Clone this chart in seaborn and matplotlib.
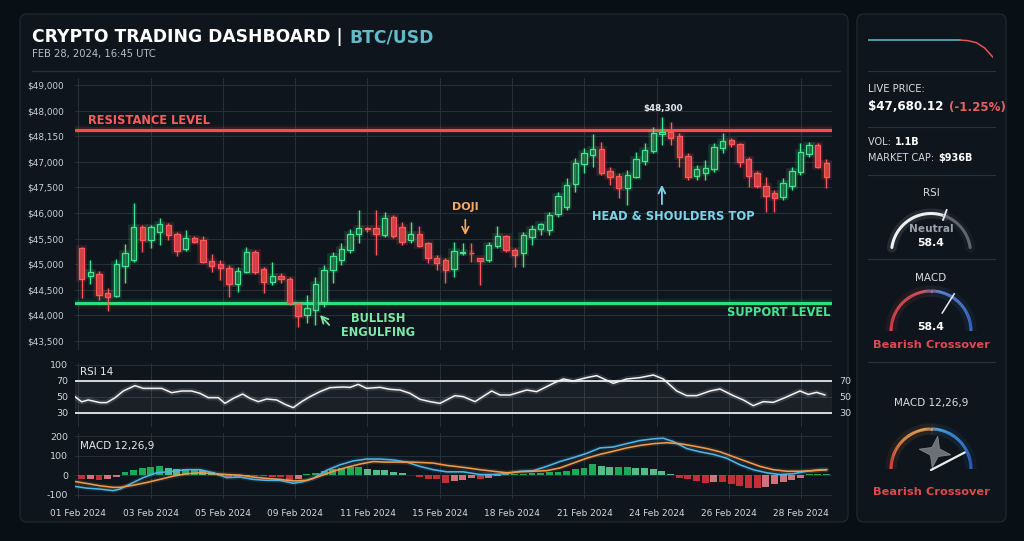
import numpy as np
import matplotlib
matplotlib.use("Agg")
import matplotlib.pyplot as plt
import seaborn as sns
from matplotlib.patches import FancyBboxPatch, Polygon
from matplotlib.collections import LineCollection
from matplotlib.colors import LinearSegmentedColormap

## Data
opens = [45310, 44769, 44802, 44431, 44379, 44971, 45082, 45733, 45472, 45622,
         45765, 45589, 45290, 45511, 45466, 45062, 44997, 44932, 44613, 44854,
         45238, 44906, 44658, 44769, 44704, 44222, 44007, 44105, 44268, 44886,
         45082, 45277, 45583, 45700, 45700, 45570, 45928, 45733, 45472, 45589,
         45407, 45127, 45082, 44899, 45212, 45225, 45114, 45082, 45362, 45550,
         45277, 45212, 45537, 45680, 45668, 45980, 46110, 46566, 46950, 47132,
         47243, 46827, 46722, 46482, 46709, 47022, 47217, 47542, 47588, 47503,
         47113, 46722, 46787, 46852, 47263, 47425, 47347, 47048, 46774, 46534,
         46384, 46318, 46527, 46807, 47152, 47328, 46983]
highs = [45340, 45082, 44867, 44528, 45095, 45394, 46201, 45765, 45765, 45895,
         45798, 45635, 45667, 45550, 45550, 45199, 45082, 44984, 44952, 45342,
         45277, 44939, 45049, 44834, 44756, 44268, 44398, 44756, 44984, 45244,
         45407, 45680, 46058, 45733, 46058, 46025, 45960, 45830, 45830, 45752,
         45440, 45180, 45114, 45440, 45407, 45407, 45127, 45440, 45746, 45570,
         45310, 45635, 45765, 45798, 46025, 46416, 46677, 47067, 47263, 47543,
         47393, 46905, 46774, 46840, 47198, 47360, 47686, 47868, 47783, 47555,
         47165, 46937, 47035, 47360, 47555, 47458, 47373, 47100, 46826, 46709,
         46449, 46677, 46891, 47360, 47393, 47360, 47048]
lows = [44333, 44613, 44300, 44086, 44353, 44626, 45049, 45244, 45310, 45375,
        45472, 45166, 45264, 45407, 45017, 44854, 44691, 44366, 44463, 44821,
        44808, 44431, 44593, 44626, 44203, 43779, 43845, 43812, 44170, 44626,
        44984, 45212, 45407, 45635, 45180, 45537, 45505, 45375, 45407, 45342,
        45017, 44886, 44626, 44743, 45180, 45049, 44593, 45049, 45310, 45244,
        44951, 44951, 45375, 45570, 45570, 45928, 46058, 46416, 46774, 46905,
        46742, 46547, 46286, 46156, 46677, 46937, 47165, 47328, 47328, 46904,
        46644, 46644, 46644, 46807, 47165, 47295, 46891, 46514, 46481, 46025,
        46025, 46254, 46449, 46742, 47100, 46872, 46481]
closes = [44704, 44841, 44398, 44366, 44997, 45218, 45720, 45472, 45733, 45778,
          45563, 45264, 45505, 45440, 45049, 44965, 44919, 44613, 44867, 45245,
          44841, 44658, 44763, 44704, 44235, 43994, 44151, 44613, 44886, 45160,
          45290, 45589, 45713, 45680, 45583, 45908, 45550, 45440, 45589, 45362,
          45114, 45030, 44886, 45264, 45244, 45212, 45062, 45375, 45550, 45277,
          45180, 45570, 45687, 45785, 45960, 46332, 46547, 46983, 47165, 47243,
          46774, 46709, 46482, 46742, 47048, 47230, 47555, 47588, 47458, 47100,
          46709, 46852, 46872, 47295, 47412, 47347, 47002, 46722, 46527, 46332,
          46286, 46592, 46826, 47197, 47328, 46904, 46696]

resistance = 47620
support = 44242

price_ticks = [43500, 44000, 44500, 45000, 45500, 46000, 46500, 47000, 47500, 48000, 48500]
price_labels = ["$43,500", "$44,000", "$44,500", "$45,000", "$45,500", "$46,000",
                "$47,500", "$47,000", "$48,150", "$48,000", "$49,000"]

date_labels = ["01 Feb 2024", "03 Feb 2024", "05 Feb 2024", "09 Feb 2024", "11 Feb 2024",
               "15 Feb 2024", "18 Feb 2024", "21 Feb 2024", "24 Feb 2024", "26 Feb 2024",
               "28 Feb 2024"]

# RSI 14 (position in candle units, value)
rsi_idx = [-0.77, 0, 0.76, 2.11, 2.89, 3.85, 4.80, 6.15, 7.11, 9.24,
           10.39, 11.55, 12.70, 13.66, 14.62, 15.77, 16.55, 17.51, 18.59, 19.43,
           20.39, 21.36, 22.52, 23.48, 24.43, 25.40, 26.36, 27.52, 28.67, 30.21,
           30.98, 31.94, 32.91, 34.45, 35.60, 36.76, 37.91, 39.06, 40.21,
           41.37, 43.10, 44.06, 45.42, 47.34, 48.30, 49.46, 51.39, 52.54, 54.46,
           55.61, 56.77, 58.31, 59.47, 61.39, 62.93, 64.47, 66.01, 67.16, 68.71,
           69.86, 71.02, 72.55, 73.71, 75.24, 76.40, 77.55, 78.71, 79.86, 81.02,
           82.94, 83.90, 84.87, 85.83]
rsi_val = [50.4, 44, 46.3, 43, 43, 49, 57.5, 64.2, 60.8, 60.8,
           55.4, 57.5, 57.5, 54.6, 49.2, 49.2, 42.1, 48.3, 53.7, 48.3,
           44.2, 47.5, 46.3, 40.8, 36.7, 44.2, 50.4, 56.7, 61.7, 62.5,
           62, 65.8, 60.8, 62.1, 59.6, 58.75, 54.6, 47.1, 44.2,
           42.1, 51.7, 50.4, 44.2, 57.5, 52.5, 52.5, 58.75, 56.7, 67.1,
           72.5, 70, 74.2, 76.7, 67.1, 72.5, 74.2, 77.5, 72.5, 57.5,
           51.7, 51.7, 57.5, 60, 51.7, 46.3, 39.2, 44.2, 43.3, 48.3,
           57.5, 53.3, 55.8, 52.5]

# MACD 12,26,9
macd_idx = [-0.77, 0.58, 2.11, 3.65, 4.42, 5.96, 7.11, 8.66, 10.58, 12.12,
            13.66, 15.20, 16.74, 18.27, 19.82, 21.36, 22.90, 24.43, 25.40, 26.74,
            28.29, 29.83, 31.36, 32.91, 34.45, 35.98, 37.53, 39.06, 40.60, 42.15,
            44.06, 45.99, 47.53, 49.08, 50.61, 52.15, 53.70, 55.23, 56.77, 58.31,
            59.85, 61.39, 62.93, 64.47, 66.01, 67.16, 68.31, 69.86, 71.39, 72.93,
            74.48, 76.02, 77.55, 79.10, 80.63, 82.17, 83.72, 85.26, 86.03]
macd_val = [-58, -67, -72, -80, -72, -38, -13, 12, 20, 28,
            28, 12, -13, -10, -22, -27, -27, -42, -35, -17,
            25, 53, 73, 83, 83, 78, 67, 45, 28, 17,
            17, 3, 3, 8, 20, 23, 45, 70, 90, 112,
            140, 145, 162, 178, 187, 190, 173, 137, 120, 107,
            87, 53, 28, 12, 3, 7, 20, 28, 28]
signal_idx = [-0.77, 0.58, 2.11, 3.65, 4.42, 5.96, 7.50, 9.04, 10.58, 12.12,
              13.66, 15.20, 16.74, 18.27, 19.82, 21.36, 22.90, 24.43, 25.98, 27.52,
              29.05, 30.60, 32.13, 33.67, 35.22, 36.76, 38.29,
              40.60, 42.15, 44.06, 45.99, 47.53, 49.08, 50.61, 52.15, 53.70, 55.23,
              56.77, 58.31, 59.85, 61.39, 62.93, 64.47, 66.01, 67.55, 69.09, 70.63,
              72.17, 73.71, 75.24, 76.79, 78.33, 79.86, 81.40, 82.94, 84.49, 86.03]
signal_val = [-33, -43, -55, -63, -63, -52, -38, -22, -5, 7,
              12, 8, 3, 0, -10, -17, -22, -30, -27, -5,
              20, 40, 57, 70, 67, 67, 67,
              62, 50, 40, 28, 20, 12, 17, 20, 23, 37,
              62, 87, 107, 123, 140, 153, 162, 167, 162, 150,
              137, 120, 95, 70, 45, 28, 20, 20, 23, 28]
macd_hist = [-22, -20, -27, -22, -8, 17, 28, 37, 43, 48,
             37, 32, 32, 32, 28, 17, -5, -10, -13, -5,
             -5, -7, -8, -12, -30, -20, 5, 12, 22, 30,
             35, 40, 40, 33, 28, 25, 17, 10, 0, -10,
             -20, -22, -38, -30, -25, -15, -20, -15, -5, 5,
             5, 8, 10, 12, 15, 18, 22, 33, 38, 55,
             45, 40, 40, 40, 38, 35, 30, 22, 5, -15,
             -22, -30, -38, -35, -35, -45, -55, -65, -65, -60,
             -45, -35, -25, -15, 5, 5, 5]

# sidebar sparkline
spark = [0, 0, 0, 0, 0, 0, 0, 0, 0, 0, 0, 0, -0.5, -2, -6, -13]

## Style
sns.set_theme(style="dark", rc={"figure.facecolor": "#081016", "axes.facecolor": "none",
                                "axes.edgecolor": "none", "text.color": "#d6dce2",
                                "xtick.color": "#cfd6dc", "ytick.color": "#cfd6dc"})
plt.rcParams["font.family"] = ["DejaVu Sans"]

W, H = 1024, 541
fig = plt.figure(figsize=(W / 100, H / 100), dpi=100)

# background layer in pixel coordinates
bg = fig.add_axes([0, 0, 1, 1], zorder=0)
bg.set_xlim(0, W)
bg.set_ylim(H, 0)
bg.axis("off")

for (x0, y0, x1, y1) in [(20, 14, 848, 522), (857, 14, 1006, 522)]:
    bg.add_patch(FancyBboxPatch((x0, y0), x1 - x0, y1 - y0,
                                boxstyle="round,pad=0,rounding_size=7",
                                fc="#0e151c", ec="#1c2731", lw=1))


def px_axes(x0, y0, x1, y1):
    a = fig.add_axes([x0 / W, 1 - y1 / H, (x1 - x0) / W, (y1 - y0) / H], zorder=2)
    a.set_facecolor("none")
    for s in a.spines.values():
        s.set_visible(False)
    return a


grid_c = "#24303a"
x = np.arange(len(opens))
xlim = (-0.77, 86.64)
date_pos = np.linspace(-0.4, 83.1, len(date_labels))

## Price panel
ax_p = px_axes(75, 78, 832, 350)
ax_p.set_xlim(*xlim)
ax_p.set_ylim(43324, 48636)
ax_p.set_yticks(price_ticks)
ax_p.set_yticklabels(price_labels, fontsize=6.4, color="#c9d0d7")
ax_p.set_xticks(date_pos)
ax_p.set_xticklabels([])
ax_p.tick_params(length=0, pad=8)
ax_p.grid(True, color=grid_c, lw=0.8)

for lvl, col in [(resistance, "#ff4a4a"), (support, "#2ee07a")]:
    for lw, a in [(8, 0.05), (4.5, 0.12), (2.2, 1)]:
        ax_p.axhline(lvl, color=col, lw=lw, alpha=a, zorder=3)

o, c = np.array(opens), np.array(closes)
up = c >= o
edge = np.where(up, "#45e68f", "#ff5a5a")
face = [(0.10, 0.42, 0.25, 0.75) if u else (0.86, 0.25, 0.27, 0.9) for u in up]
body_lo = np.minimum(o, c)
body_h = np.maximum(np.abs(c - o), 14)
ax_p.vlines(x, lows, highs, colors=edge, lw=3.5, alpha=0.12, zorder=4)
ax_p.vlines(x, lows, highs, colors=edge, lw=0.9, zorder=4)
ax_p.bar(x, body_h, bottom=body_lo, width=0.62, color="none", edgecolor=edge,
         linewidth=4, alpha=0.15, zorder=4)
ax_p.bar(x, body_h, bottom=body_lo, width=0.62, color=face, edgecolor=edge,
         linewidth=0.9, zorder=5)

glow = dict(fontweight="bold", zorder=6)
ax_p.text(0.7, 47797, "RESISTANCE LEVEL", color="#ff5b5b", fontsize=8.3, va="center", **glow)
ax_p.text(86.4, 44047, "SUPPORT LEVEL", color="#45e68f", fontsize=8.3, va="center", ha="right", **glow)
ax_p.text(67.1, 48031, "$48,300", color="#e8ecef", fontsize=6.3, va="center", ha="center", **glow)
ax_p.text(44.3, 46117, "DOJI", color="#f6a964", fontsize=8, va="center", ha="center", **glow)
ax_p.annotate("", xy=(44.3, 45512), xytext=(44.3, 45922),
              arrowprops=dict(arrowstyle="->", color="#f6a964", lw=1.2))
ax_p.text(68.3, 45922, "HEAD & SHOULDERS TOP", color="#7fd4ea", fontsize=8.3, va="center",
          ha="center", **glow)
ax_p.annotate("", xy=(67.0, 46605), xytext=(67.0, 46117),
              arrowprops=dict(arrowstyle="->", color="#7fd4ea", lw=1.3))
ax_p.text(34.2, 43930, "BULLISH", color="#7ee8a6", fontsize=8.3, va="center", ha="center", **glow)
ax_p.text(34.2, 43656, "ENGULFING", color="#7ee8a6", fontsize=8.3, va="center", ha="center", **glow)
ax_p.annotate("", xy=(27.3, 44047), xytext=(28.8, 43773),
              arrowprops=dict(arrowstyle="->", color="#7ee8a6", lw=1.3))

## RSI panel
ax_r = px_axes(75, 363, 832, 427)
ax_r.set_xlim(*xlim)
ax_r.set_ylim(12.5, 92.5)
ax_r.set_yticks([90, 70, 50, 30])
ax_r.set_yticklabels(["100", "70", "50", "30"], fontsize=6.8)
ax_r.set_xticks(date_pos)
ax_r.set_xticklabels([])
ax_r.tick_params(length=0, pad=5)
ax_r.grid(True, color=grid_c, lw=0.7)
ax_r.axhspan(30, 70, color="white", alpha=0.05)
ax_r.axhline(70, color="#e4e8eb", lw=1.3)
ax_r.axhline(30, color="#e4e8eb", lw=1.3)
ax_r.plot(rsi_idx, rsi_val, color="white", lw=4, alpha=0.12)
sns.lineplot(x=rsi_idx, y=rsi_val, ax=ax_r, color="#f2f4f5", lw=1.1, sort=False)
ax_r.text(0.007, 0.86, "RSI 14", transform=ax_r.transAxes, fontsize=7.5, color="#e6eaee", va="center")
ax_r2 = ax_r.twinx()
ax_r2.set_ylim(12.5, 92.5)
ax_r2.set_yticks([70, 50, 30])
ax_r2.set_yticklabels(["70", "50", "30"], fontsize=6.8)
ax_r2.tick_params(length=0, pad=5)
for s in ax_r2.spines.values():
    s.set_visible(False)
ax_r2.grid(False)

## MACD panel
ax_m = px_axes(75, 433, 832, 499)
ax_m.set_xlim(*xlim)
ax_m.set_ylim(-123, 217)
ax_m.set_yticks([200, 100, 0, -100])
ax_m.set_yticklabels(["200", "100", "0", "-100"], fontsize=6.8)
ax_m.grid(True, color=grid_c, lw=0.7)
hist = np.array(macd_hist)
prev = np.r_[hist[0], hist[:-1]]
hcol = np.where(hist >= 0,
                np.where(hist >= prev, "#22c466", "#5fdc9a"),
                np.where(hist <= prev, "#e2363f", "#f2848a"))
ax_m.bar(x, hist, width=0.8, color=hcol, alpha=0.85, linewidth=0, zorder=2)
for vals_x, vals_y, col in [(macd_idx, macd_val, "#4fb4e8"), (signal_idx, signal_val, "#f19a4c")]:
    ax_m.plot(vals_x, vals_y, color=col, lw=3.5, alpha=0.12, zorder=3)
    sns.lineplot(x=vals_x, y=vals_y, ax=ax_m, color=col, lw=1.15, sort=False, zorder=4)
ax_m.set_xticks(date_pos)
ax_m.set_xticklabels(date_labels, fontsize=6.5, color="#d3d9de")
ax_m.tick_params(axis="x", length=3, color="#7d8790", pad=4)
ax_m.tick_params(axis="y", length=0, pad=5)
ax_m.text(0.007, 0.80, "MACD 12,26,9", transform=ax_m.transAxes, fontsize=7.5, color="#e6eaee", va="center")
for a in (ax_p, ax_r, ax_m):
    a.set_xlabel("")
    a.set_ylabel("")

## Header
fig.canvas.draw()
rend = fig.canvas.get_renderer()


def run_text(x0, y, parts, **kw):
    # place several coloured pieces of text one after another
    for txt, col, wt in parts:
        t = bg.text(x0, y, txt, color=col, fontweight=wt, va="center", ha="left", **kw)
        x0 = t.get_window_extent(rend).x1 + 1
    return x0


run_text(32, 37, [("CRYPTO TRADING DASHBOARD | ", "white", "bold"), ("BTC/USD", "#62b9c9", "bold")],
         fontsize=12.3)
bg.text(32, 54, "FEB 28, 2024, 16:45 UTC", fontsize=7.2, color="#b7bfc7", va="center")
bg.plot([32, 840], [71, 71], color="#24303a", lw=1)

## Sidebar
sp_ax = px_axes(868, 38, 993, 58)
sp_ax.set_xticks([])
sp_ax.set_yticks([])
sp_x = np.arange(len(spark))
sp_ax.plot(sp_x[:12], spark[:12], color="#4fa8b4", lw=1.3)
sp_ax.plot(sp_x[11:], spark[11:], color="#e05555", lw=1.1)
sp_ax.set_xlim(0, len(spark) - 1)
sp_ax.set_ylim(-13.5, 1.5)

for yy in [71, 127, 175, 259, 362]:
    bg.plot([868, 995], [yy, yy], color="#25313b", lw=0.9)

bg.text(868, 89, "LIVE PRICE:", fontsize=7.2, color="#d9dee3", va="center")
run_text(868, 107, [("$47,680.12 ", "white", "bold"), ("(-1.25%)", "#e5615f", "bold")], fontsize=8.6)
run_text(868, 142, [("VOL: ", "#d3d9de", "normal"), ("1.1B", "white", "bold")], fontsize=7)
run_text(868, 158, [("MARKET CAP: ", "#d3d9de", "normal"), ("$936B", "white", "bold")], fontsize=7)


def arc_xy(cx, cy, r, t0, t1, n=80):
    t = np.radians(np.linspace(t0, t1, n))
    return cx + r * np.cos(t), cy - r * np.sin(t)


def arc(cx, cy, r, t0, t1, col, lw=2.2):
    ax_, ay_ = arc_xy(cx, cy, r, t0, t1)
    bg.plot(ax_, ay_, color=col, lw=lw + 5, alpha=0.1, solid_capstyle="round")
    bg.plot(ax_, ay_, color=col, lw=lw, solid_capstyle="round")


def grad_arc(cx, cy, r, t0, t1, cmap, lw=2.2):
    ax_, ay_ = arc_xy(cx, cy, r, t0, t1, 120)
    pts = np.column_stack([ax_, ay_]).reshape(-1, 1, 2)
    segs = np.concatenate([pts[:-1], pts[1:]], axis=1)
    vals = np.linspace(0, 1, len(segs))
    bg.add_collection(LineCollection(segs, cmap=cmap, array=vals, lw=lw + 6, alpha=0.1))
    bg.add_collection(LineCollection(segs, cmap=cmap, array=vals, lw=lw))


def needle(cx, cy, ang, r0, r1, col="#e9edf0", lw=1.3):
    t = np.radians(ang)
    bg.plot([cx + r0 * np.cos(t), cx + r1 * np.cos(t)], [cy - r0 * np.sin(t), cy - r1 * np.sin(t)],
            color=col, lw=lw, solid_capstyle="round")


# RSI gauge
bg.text(931, 193, "RSI", fontsize=7.5, color="#d9dee3", ha="center", va="center")
arc(931, 253, 39.5, 172, 70, "#eef1f3")
arc(931, 253, 39.5, 70, 8, "#5d666e")
needle(931, 253, 70, 35, 46)
bg.text(931, 229, "Neutral", fontsize=7.6, color="#9aa3ab", fontweight="bold", ha="center", va="center")
bg.text(931, 243, "58.4", fontsize=7.8, color="white", fontweight="bold", ha="center", va="center")

# MACD gauge
bg.text(931, 278, "MACD", fontsize=7.5, color="#d9dee3", ha="center", va="center")
cm2 = LinearSegmentedColormap.from_list("m2", [(0, "#e8464c"), (0.42, "#e0575e"),
                                               (0.58, "#5d8fe0"), (1, "#3d6fd2")])
grad_arc(931, 331, 40, 180, 0, cm2)
needle(931, 331, 58, 21, 44, lw=1.1)
bg.text(931, 327, "58.4", fontsize=7.8, color="white", fontweight="bold", ha="center", va="center")
bg.text(931, 345, "Bearish Crossover", fontsize=8.2, color="#e04a4f", fontweight="bold",
        ha="center", va="center")

# MACD 12,26,9 gauge
bg.text(931, 403, "MACD 12,26,9", fontsize=7.5, color="#d9dee3", ha="center", va="center")
cm3 = LinearSegmentedColormap.from_list("m3", [(0, "#e8453c"), (0.3, "#f0a050"),
                                               (0.48, "#f2a455"), (0.56, "#4aa8f2"),
                                               (1, "#2f62c8")])
grad_arc(931, 469, 40, 180, 0, cm3)
star = []
for k in range(8):
    ang = np.radians(80 + 45 * k)
    rr = 16 if k % 2 == 0 else 5.5
    star.append((935 + rr * np.cos(ang), 452 - rr * np.sin(ang)))
bg.add_patch(Polygon(star, closed=True, fc="#6a7077", ec="#80868c", lw=0.6, zorder=3))
needle(931, 470, 27.5, 0, 38, lw=1.6)
bg.text(931, 492, "Bearish Crossover", fontsize=8.2, color="#e04a4f", fontweight="bold",
        ha="center", va="center")

fig.savefig("out.png", dpi=100, facecolor=fig.get_facecolor())
